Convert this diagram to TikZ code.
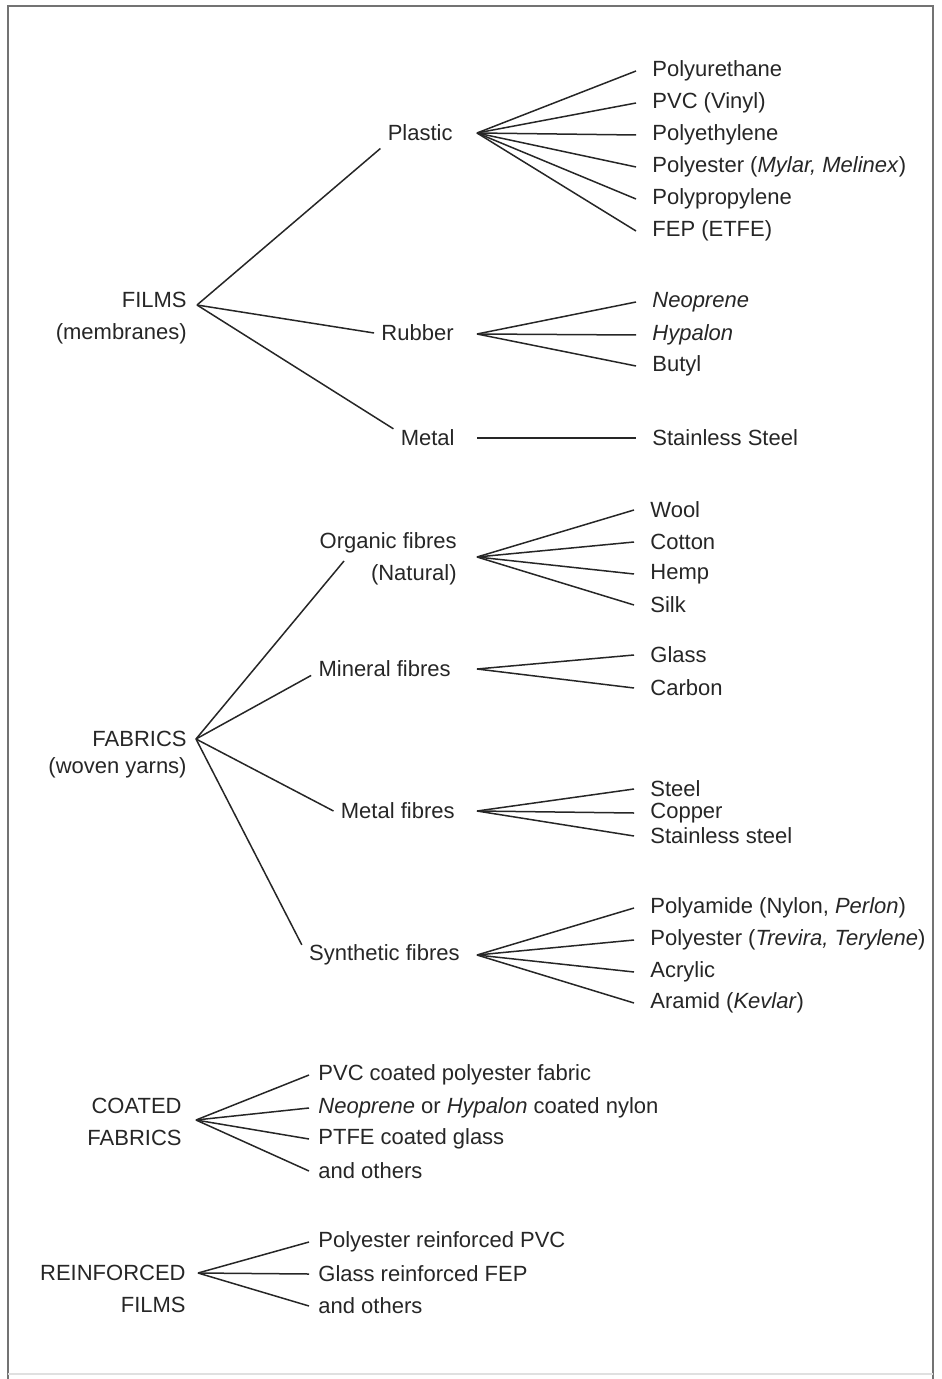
\documentclass[tikz,border=0pt]{standalone}
\usepackage{fontspec}
\setmainfont{Liberation Sans}
\usepackage{tikz}
\tikzset{%
  % Specifications for style of texts and lines:
            base/.style = {inner sep=3.5pt, text=black!85,
                           font=\fontsize{11}{16}\selectfont},
  root/.style = {base, anchor=east, align=right},
  mid/.style  = {base, anchor=east, align=right},
  leaf/.style = {base, anchor=west, inner xsep=8pt},
  link/.style = {draw=black!85, line width=0.75pt},
}

\begin{document}
\begin{tikzpicture}[x=0.5pt, y=-0.5pt]
  \useasboundingbox (0,0) rectangle (941,1379);

  % frame round the chart
  \draw[black!55, line width=1pt] (8,1379) -- (8,6) -- (933,6) -- (933,1379);
  \draw[black!12, line width=0.75pt] (8,1374) -- (933,1374);

  % Specification of nodes (position, etc.)
  \node (films)      [root] at (194,318) {FILMS\\(membranes)};
  \node (fabrics)    [root, font=\fontsize{11}{13.5}\selectfont] at (194,755) {FABRICS\\(woven yarns)};
  \node (coated)     [root] at (189,1122) {COATED\\FABRICS};
  \node (reinforced) [root] at (193,1289) {REINFORCED\\FILMS};

  \coordinate (films-fork)      at (197,305);
  \coordinate (fabrics-fork)    at (196,739);
  \coordinate (coated-fork)     at (196,1120);
  \coordinate (reinforced-fork) at (198,1273);

  \node (plastic)   [mid] at (460,133) {Plastic};
  \node (rubber)    [mid] at (461,333) {Rubber};
  \node (metal)     [mid] at (462,438) {Metal};
  \node (organic)   [mid] at (464,559) {Organic fibres\\(Natural)};
  \node (mineral)   [mid] at (458,669) {Mineral fibres};
  \node (metalf)    [mid] at (462,811) {Metal fibres};
  \node (synth)     [mid] at (467,955) {Synthetic fibres};

  \coordinate (organic-in)    at (344,561);
  \coordinate (plastic-fork)  at (477,133);
  \coordinate (rubber-fork)   at (477,334);
  \coordinate (metal-fork)    at (477,438);
  \coordinate (organic-fork)  at (477,557);
  \coordinate (mineral-fork)  at (477,669);
  \coordinate (metalf-fork)   at (477,811);
  \coordinate (synth-fork)    at (477,955);

  % films
  \node (pu)    [leaf] at (636,71)  {Polyurethane};
  \node (pvc)   [leaf] at (636,103) {PVC (Vinyl)};
  \node (pe)    [leaf] at (636,135) {Polyethylene};
  \node (pes)   [leaf] at (636,167) {Polyester (\textit{Mylar, Melinex})};
  \node (pp)    [leaf] at (636,199) {Polypropylene};
  \node (fep)   [leaf] at (636,231) {FEP (ETFE)};
  \node (neo)   [leaf] at (636,302) {\textit{Neoprene}};
  \node (hyp)   [leaf] at (636,335) {\textit{Hypalon}};
  \node (butyl) [leaf] at (636,366) {Butyl};
  \node (ss)    [leaf] at (636,438) {Stainless Steel};

  % fabrics
  \node (wool)   [leaf] at (634,510)  {Wool};
  \node (cotton) [leaf] at (634,542)  {Cotton};
  \node (hemp)   [leaf] at (634,574)  {Hemp};
  \node (silk)   [leaf] at (634,605)  {Silk};
  \node (glass)  [leaf] at (634,655)  {Glass};
  \node (carbon) [leaf] at (634,688)  {Carbon};
  \node (steel)  [leaf] at (634,789)  {Steel};
  \node (copper) [leaf] at (634,813)  {Copper};
  \node (sst)    [leaf] at (634,836)  {Stainless steel};
  \node (pa)     [leaf] at (634,908)  {Polyamide (Nylon, \textit{Perlon})};
  \node (pet)    [leaf] at (634,940)  {Polyester (\textit{Trevira, Terylene})};
  \node (acr)    [leaf] at (634,972)  {Acrylic};
  \node (ara)    [leaf] at (634,1003) {Aramid (\textit{Kevlar})};

  % coated and reinforced
  \node (cf1) [leaf, inner xsep=4.5pt] at (309,1075) {PVC coated polyester fabric};
  \node (cf2) [leaf, inner xsep=4.5pt] at (309,1108) {\textit{Neoprene} or \textit{Hypalon} coated nylon};
  \node (cf3) [leaf, inner xsep=4.5pt] at (309,1139) {PTFE coated glass};
  \node (cf4) [leaf, inner xsep=4.5pt] at (309,1171) {and others};
  \node (rf1) [leaf, inner xsep=4.5pt] at (309,1242) {Polyester reinforced PVC};
  \node (rf2) [leaf, inner xsep=4.5pt] at (309,1274) {Glass reinforced FEP};
  \node (rf3) [leaf, inner xsep=4.5pt] at (309,1306) {and others};

  % Specification of lines between nodes specified above
  \draw[link] (films-fork) -- (plastic.south west);
  \draw[link] (films-fork) -- (rubber.west);
  \draw[link] (films-fork) -- (metal.165);

  \draw[link] (plastic-fork) -- (pu.west);
  \draw[link] (plastic-fork) -- (pvc.west);
  \draw[link] (plastic-fork) -- (pe.west);
  \draw[link] (plastic-fork) -- (pes.west);
  \draw[link] (plastic-fork) -- (pp.west);
  \draw[link] (plastic-fork) -- (fep.west);
  \draw[link] (rubber-fork) -- (neo.west);
  \draw[link] (rubber-fork) -- (hyp.west);
  \draw[link] (rubber-fork) -- (butyl.west);
  \draw[link] (metal-fork) -- (ss.west);

  \draw[link] (fabrics-fork) -- (organic-in);
  \draw[link] (fabrics-fork) -- (mineral.185);
  \draw[link] (fabrics-fork) -- (metalf.west);
  \draw[link] (fabrics-fork) -- (synth.173);

  \draw[link] (organic-fork) -- (wool.west);
  \draw[link] (organic-fork) -- (cotton.west);
  \draw[link] (organic-fork) -- (hemp.west);
  \draw[link] (organic-fork) -- (silk.west);
  \draw[link] (mineral-fork) -- (glass.west);
  \draw[link] (mineral-fork) -- (carbon.west);
  \draw[link] (metalf-fork) -- (steel.west);
  \draw[link] (metalf-fork) -- (copper.west);
  \draw[link] (metalf-fork) -- (sst.west);
  \draw[link] (synth-fork) -- (pa.west);
  \draw[link] (synth-fork) -- (pet.west);
  \draw[link] (synth-fork) -- (acr.west);
  \draw[link] (synth-fork) -- (ara.west);

  \draw[link] (coated-fork) -- (cf1.west);
  \draw[link] (coated-fork) -- (cf2.west);
  \draw[link] (coated-fork) -- (cf3.west);
  \draw[link] (coated-fork) -- (cf4.west);
  \draw[link] (reinforced-fork) -- (rf1.west);
  \draw[link] (reinforced-fork) -- (rf2.west);
  \draw[link] (reinforced-fork) -- (rf3.west);
\end{tikzpicture}
\end{document}
